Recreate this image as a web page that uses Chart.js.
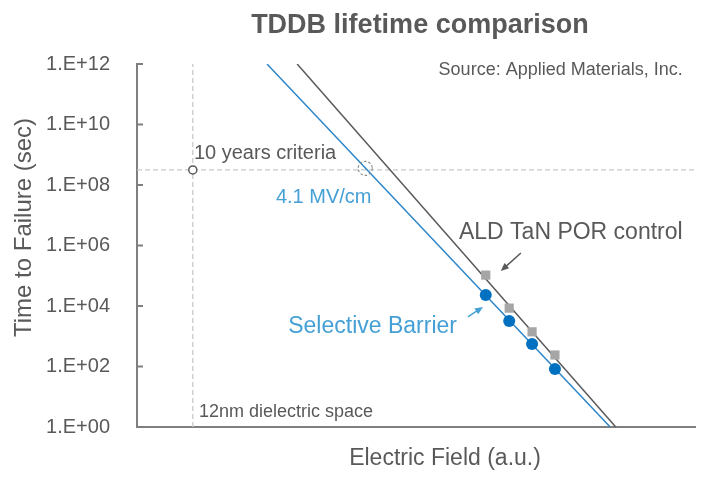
<!DOCTYPE html>
<html>
<head>
<meta charset="utf-8">
<title>TDDB lifetime comparison</title>
<script src="https://cdn.jsdelivr.net/npm/chart.js@4.4.1/dist/chart.umd.min.js"></script>
<style>
  html, body { margin: 0; padding: 0; background: #fff; }
  #tddb { display: block; }
</style>
</head>
<body>
<canvas id="tddb" width="713" height="477"></canvas>
<script>
// values: field in arbitrary units (0..100), time in seconds
const fieldPoints = [62.5, 66.7, 70.8, 74.9];
const controlTTF = [1.05e5, 8.5e3, 1.4e3, 2.4e2];
const barrierTTF = [2.3e4, 3.2e3, 5.5e2, 83];

// fitted lines, from the top of the plot down to 1 sec
const controlFitX = [28.7, 85.8];
const barrierFitX = [23.3, 84.8];
const fitTTF = [1e12, 1];

const tenYears = 3.15e8;     // 10 years in seconds
const spaceField = 10;       // 12nm dielectric space
const criteriaField = 40.9;  // barrier fit meets the 10 years line (4.1 MV/cm)

const yTicks = [1, 1e2, 1e4, 1e6, 1e8, 1e10, 1e12];
const yTickLabels = ['1.E+00', '1.E+02', '1.E+04', '1.E+06', '1.E+08', '1.E+10', '1.E+12'];

const FONT = '"Liberation Sans", Arial, sans-serif';
const GREY = '#595959';
const AXIS = '#7f7f7f';
const DASH = '#c9c9c9';
const BLUE_TEXT = '#45a0d6';

const pts = (xs, ys) => xs.map((x, i) => ({ x: x, y: ys[i] }));

// text, arrows, inner tick marks and the dashed circle, placed through the scales
const notes = {
  id: 'notes',
  afterDraw(chart) {
    const { ctx, chartArea: a, scales: { x, y } } = chart;
    const X = v => x.getPixelForValue(v);
    const Y = e => y.getPixelForValue(Math.pow(10, e));

    ctx.save();

    // tick marks point into the plot
    ctx.strokeStyle = AXIS;
    ctx.lineWidth = 2;
    yTicks.forEach(t => {
      const py = y.getPixelForValue(t);
      ctx.beginPath();
      ctx.moveTo(a.left, py);
      ctx.lineTo(a.left + 6, py);
      ctx.stroke();
    });

    const text = (s, px, py, size, color, align, weight) => {
      ctx.font = (weight || 'normal') + ' ' + size + 'px ' + FONT;
      ctx.fillStyle = color;
      ctx.textAlign = align || 'left';
      ctx.textBaseline = 'alphabetic';
      ctx.fillText(s, px, py);
    };

    const arrow = (x1, y1, x2, y2, color) => {
      const ang = Math.atan2(y2 - y1, x2 - x1);
      ctx.strokeStyle = color;
      ctx.fillStyle = color;
      ctx.lineWidth = 1.5;
      ctx.beginPath();
      ctx.moveTo(x1, y1);
      ctx.lineTo(x2 - 5 * Math.cos(ang), y2 - 5 * Math.sin(ang));
      ctx.stroke();
      ctx.beginPath();
      ctx.moveTo(x2, y2);
      ctx.lineTo(x2 - 8 * Math.cos(ang) + 3.5 * Math.sin(ang), y2 - 8 * Math.sin(ang) - 3.5 * Math.cos(ang));
      ctx.lineTo(x2 - 8 * Math.cos(ang) - 3.5 * Math.sin(ang), y2 - 8 * Math.sin(ang) + 3.5 * Math.cos(ang));
      ctx.closePath();
      ctx.fill();
    };

    // dashed circle where the barrier line crosses 10 years
    ctx.setLineDash([2.5, 2]);
    ctx.strokeStyle = '#8c8c8c';
    ctx.lineWidth = 1.2;
    ctx.beginPath();
    ctx.arc(X(criteriaField), Y(8.55), 7, 0, Math.PI * 2);
    ctx.stroke();
    ctx.setLineDash([]);

    text('TDDB lifetime comparison', X(50.7), a.top - 31, 27, GREY, 'center', 'bold');
    text('Source: Applied Materials, Inc.', X(97.8), Y(11.64), 18, GREY, 'right');
    text('10 years criteria', X(10.2), Y(8.86), 20, GREY);
    text('4.1 MV/cm', X(24.9), Y(7.4), 20, BLUE_TEXT);
    text('ALD TaN POR control', X(57.7), Y(6.21), 23, GREY);
    text('Selective Barrier', X(27.1), Y(3.11), 23, BLUE_TEXT);
    text('12nm dielectric space', X(11.1), Y(0.33), 18, GREY);

    arrow(X(68.8), Y(5.75), X(65.2), Y(5.16), GREY);
    arrow(X(59.3), Y(3.64), X(62.0), Y(3.97), BLUE_TEXT);

    // axis titles
    text('Electric Field (a.u.)', X(55.2), a.bottom + 38, 23, GREY, 'center');
    ctx.save();
    ctx.translate(a.left - 106, (a.top + a.bottom) / 2 - 18);
    ctx.rotate(-Math.PI / 2);
    text('Time to Failure (sec)', 0, 0, 24, GREY, 'center');
    ctx.restore();

    ctx.restore();
  }
};

new Chart(document.getElementById('tddb'), {
  type: 'scatter',
  data: {
    datasets: [
      {
        label: 'Selective Barrier',
        data: pts(fieldPoints, barrierTTF),
        pointStyle: 'circle',
        pointRadius: 6,
        backgroundColor: '#0070c0',
        borderWidth: 0,
        order: 1
      },
      {
        label: 'ALD TaN POR control',
        data: pts(fieldPoints, controlTTF),
        pointStyle: 'rect',
        pointRadius: 6.5,
        backgroundColor: '#a6a6a6',
        borderWidth: 0,
        order: 2
      },
      {
        label: '10 years criteria',
        data: [{ x: spaceField, y: tenYears }],
        pointStyle: 'circle',
        pointRadius: 4,
        backgroundColor: '#ffffff',
        borderColor: GREY,
        borderWidth: 1.5,
        order: 0
      },
      {
        label: 'Barrier fit',
        data: pts(barrierFitX, fitTTF),
        showLine: true,
        pointRadius: 0,
        borderColor: '#2e86c8',
        borderWidth: 1.5,
        order: 3
      },
      {
        label: 'Control fit',
        data: pts(controlFitX, fitTTF),
        showLine: true,
        pointRadius: 0,
        borderColor: GREY,
        borderWidth: 1.5,
        order: 4
      },
      {
        label: '10 years',
        data: [{ x: 0, y: tenYears }, { x: 100, y: tenYears }],
        showLine: true,
        pointRadius: 0,
        borderColor: DASH,
        borderWidth: 1.3,
        borderDash: [5, 3],
        order: 5
      },
      {
        label: '12nm',
        data: [{ x: spaceField, y: 1 }, { x: spaceField, y: 1e12 }],
        showLine: true,
        pointRadius: 0,
        borderColor: DASH,
        borderWidth: 1.3,
        borderDash: [5, 3],
        order: 6
      }
    ]
  },
  options: {
    responsive: false,
    animation: false,
    devicePixelRatio: 1,
    layout: { padding: { top: 64, right: 18, bottom: 0, left: 0 } },
    plugins: {
      legend: { display: false },
      tooltip: { enabled: false },
      title: { display: false }
    },
    scales: {
      x: {
        type: 'linear',
        min: 0,
        max: 100,
        ticks: { display: false },
        grid: { display: false },
        border: { color: AXIS, width: 2 },
        afterFit: s => { s.height = 50; }
      },
      y: {
        type: 'logarithmic',
        min: 1,
        max: 1e12,
        afterBuildTicks: s => { s.ticks = yTicks.map(v => ({ value: v })); },
        ticks: {
          autoSkip: false,
          padding: 19,
          color: GREY,
          font: { family: FONT, size: 20 },
          callback: (v, i) => yTickLabels[i]
        },
        grid: { display: false },
        border: { color: AXIS, width: 2 },
        afterFit: s => { s.width = 137; }
      }
    }
  },
  plugins: [notes]
});
</script>
</body>
</html>
